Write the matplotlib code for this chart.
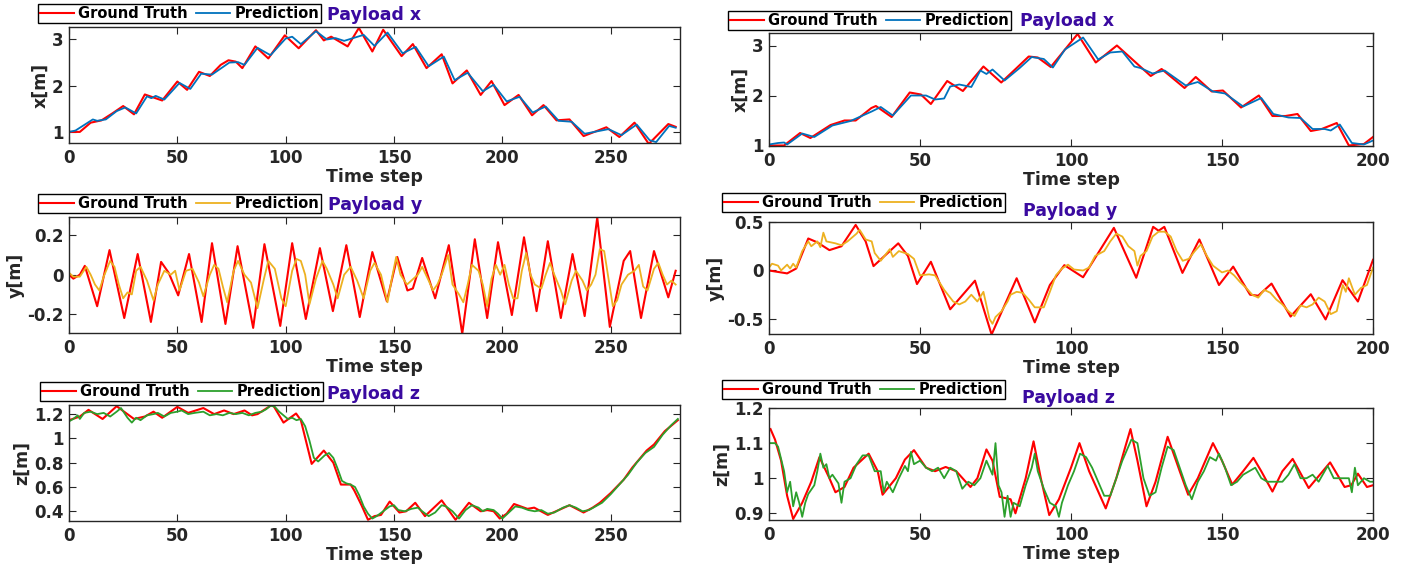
import numpy as np
import matplotlib.pyplot as plt

# ---- Payload x, left (280 steps) ----
xl_gt_t = [0, 5, 10, 15, 20, 25, 30, 35, 43, 50, 54.5, 60, 65, 70, 73.6, 77, 80, 86, 92, 99.6, 106, 114,
           117.6, 121, 128.6, 133.8, 140, 145, 153.5, 158.7, 165, 172, 177, 183.6, 190, 195, 201, 207.5,
           213.7, 219, 225, 231, 237.5, 248, 254, 261, 267.6, 276.6, 280]
xl_gt_v = [1.0, 1.0, 1.2, 1.25, 1.4, 1.56, 1.38, 1.81, 1.68, 2.09, 1.91, 2.30, 2.21, 2.45, 2.55, 2.52, 2.38,
           2.85, 2.59, 3.09, 2.81, 3.20, 2.98, 3.06, 2.85, 3.25, 2.74, 3.21, 2.64, 2.90, 2.38, 2.68, 2.05,
           2.33, 1.80, 2.10, 1.58, 1.80, 1.36, 1.58, 1.25, 1.27, 0.91, 1.10, 0.89, 1.20, 0.74, 1.17, 1.11]
xl_pr_t = [0, 3, 8, 11, 13, 17, 22, 26, 31, 36, 38, 40, 44, 51, 56, 61, 66, 74, 78, 81, 87, 93, 100, 103,
           107, 114, 119, 123, 127, 136, 141, 147, 154, 160, 166, 173, 178, 184, 191, 196, 202, 208, 214,
           220, 226, 232, 238, 249, 255, 262, 268, 271, 277, 280]
xl_pr_v = [1.0, 1.03, 1.18, 1.27, 1.24, 1.27, 1.45, 1.53, 1.40, 1.77, 1.73, 1.78, 1.70, 2.06, 1.93, 2.26,
           2.24, 2.50, 2.51, 2.45, 2.82, 2.66, 3.02, 3.06, 2.90, 3.18, 3.00, 3.03, 2.97, 3.10, 2.86, 3.15,
           2.70, 2.84, 2.42, 2.63, 2.12, 2.28, 1.88, 2.02, 1.66, 1.76, 1.42, 1.55, 1.24, 1.22, 0.96, 1.06,
           0.93, 1.16, 0.82, 0.78, 1.13, 1.09]

# ---- Payload x, right (200 steps) ----
xr_gt_t = [0, 5, 10.3, 13.7, 20.4, 25, 28.7, 33.9, 35.4, 40.6, 46.6, 50.3, 53.6, 59, 64.2, 71, 76.9, 82, 86,
           89, 93.3, 102.2, 108.2, 115.2, 126.4, 130, 137.6, 141.3, 146.6, 150.3, 156.3, 162.2, 166.7, 171,
           175, 179.4, 183, 188, 192, 197, 200]
xr_gt_v = [1.0, 1.0, 1.25, 1.15, 1.41, 1.50, 1.50, 1.75, 1.79, 1.57, 2.06, 2.02, 1.83, 2.29, 2.09, 2.58,
           2.26, 2.55, 2.78, 2.76, 2.57, 3.23, 2.66, 3.00, 2.39, 2.53, 2.15, 2.37, 2.08, 2.10, 1.76, 2.00,
           1.59, 1.59, 1.63, 1.29, 1.33, 1.45, 1.0, 1.03, 1.17]
xr_pr_t = [0, 3, 5, 6, 11, 15, 21, 27, 34, 37, 41, 47, 52, 55, 58, 60, 63, 67, 70, 72, 74, 78, 83, 87, 91,
           94, 98, 104, 109, 113, 117, 121, 123, 127, 131, 138, 142, 147, 151, 157, 163, 167, 172, 176,
           180, 184, 186, 189, 193, 197, 200]
xr_pr_v = [1.02, 1.05, 1.06, 1.02, 1.24, 1.17, 1.40, 1.49, 1.68, 1.77, 1.60, 2.00, 2.00, 1.92, 1.94, 2.18,
           2.22, 2.17, 2.50, 2.43, 2.52, 2.30, 2.55, 2.77, 2.73, 2.56, 2.92, 3.16, 2.72, 2.86, 2.88, 2.58,
           2.55, 2.44, 2.50, 2.20, 2.27, 2.08, 2.04, 1.78, 1.95, 1.63, 1.56, 1.55, 1.33, 1.33, 1.30, 1.42,
           1.05, 1.02, 1.10]

# ---- Payload y, left ----
yl_gt_t = [0, 2, 5, 7.3, 13, 18.7, 25.5, 31.7, 37.8, 42.5, 46, 50.4, 55.4, 61.2, 66, 72.2, 77.8, 85, 90.2,
           97.5, 103, 109.3, 115.8, 121.8, 128, 134.2, 140, 146.7, 151.5, 156.2, 158.7, 163, 169, 175.3,
           181.5, 187.3, 193, 198, 204.4, 210, 215.8, 221, 227, 232.4, 238, 243.8, 249.6, 256, 259, 264,
           270, 276.6, 280]
yl_gt_v = [0.0, -0.02, 0.0, 0.045, -0.16, 0.125, -0.22, 0.105, -0.24, 0.065, 0.01, -0.105, 0.105, -0.24,
           0.16, -0.25, 0.145, -0.27, 0.155, -0.26, 0.16, -0.225, 0.135, -0.185, 0.15, -0.215, 0.115,
           -0.135, 0.09, -0.08, -0.07, 0.085, -0.12, 0.15, -0.30, 0.18, -0.22, 0.165, -0.205, 0.19, -0.185,
           0.17, -0.22, 0.105, -0.21, 0.29, -0.265, 0.07, 0.12, -0.22, 0.12, -0.115, 0.02]
yl_pr_t = [0, 2, 5, 8, 10, 12, 14, 16, 19, 21, 23, 25, 27, 29, 31, 33, 36, 39, 41, 44, 47, 49, 51, 54, 57,
           60, 62, 65, 67, 69, 71, 73, 76, 78, 81, 84, 87, 90, 92, 95, 98, 100, 103, 105, 107, 109, 111,
           114, 117, 119, 122, 124, 127, 130, 133, 136, 139, 141, 144, 147, 149, 151, 153, 156, 158, 161,
           163, 166, 168, 170, 172, 175, 177, 180, 182, 184, 186, 189, 191, 193, 195, 197, 199, 201, 203,
           205, 207, 209, 211, 213, 215, 218, 220, 222, 224, 227, 229, 232, 234, 237, 239, 241, 243, 245,
           247, 249, 251, 253, 255, 258, 261, 263, 265, 267, 270, 272, 274, 276, 278, 280]
yl_pr_v = [0.01, -0.01, -0.01, 0.04, 0.0, -0.05, -0.08, -0.01, 0.07, 0.04, -0.05, -0.12, -0.09, -0.10,
           0.02, 0.04, -0.03, -0.13, -0.05, 0.02, 0.0, 0.02, -0.08, 0.02, 0.03, -0.04, -0.11, 0.0, 0.05,
           0.03, -0.06, -0.14, 0.02, 0.07, 0.0, -0.04, -0.17, -0.02, 0.07, 0.03, -0.12, -0.16, 0.02, 0.08,
           0.07, 0.0, -0.15, -0.02, 0.07, 0.03, -0.05, -0.12, 0.0, 0.04, -0.03, -0.12, 0.02, 0.06, 0.0,
           -0.14, -0.02, 0.09, 0.0, -0.05, -0.03, 0.0, 0.04, -0.03, -0.08, -0.05, 0.0, 0.10, -0.05, -0.10,
           -0.14, -0.05, 0.05, 0.02, -0.05, -0.16, -0.02, 0.05, 0.0, 0.05, -0.05, -0.12, -0.12, 0.02, 0.11,
           0.0, -0.05, -0.07, 0.0, 0.06, 0.0, -0.08, -0.15, -0.03, 0.02, -0.03, -0.08, -0.05, 0.0, 0.13,
           0.12, -0.02, -0.16, -0.13, -0.05, 0.0, 0.02, 0.05, -0.06, -0.08, 0.03, 0.06, 0.0, -0.05, -0.03,
           -0.05]

# ---- Payload y, right ----
yr_gt_t = [0, 2, 6, 9, 13, 16, 20, 24, 28.7, 32, 34.6, 42.8, 46, 49, 53.6, 60, 68.2, 73.7, 82, 88, 93,
           97.8, 104, 114.2, 121.6, 127.2, 129, 130.9, 136.9, 142.5, 149, 153.7, 159.3, 162, 166.4, 172.7,
           179.4, 184.3, 189.9, 195, 200]
yr_gt_v = [0.0, -0.01, -0.03, 0.02, 0.33, 0.29, 0.21, 0.25, 0.47, 0.30, 0.045, 0.28, 0.15, -0.14, 0.09,
           -0.40, -0.105, -0.66, -0.08, -0.535, -0.15, 0.055, -0.07, 0.44, -0.075, 0.45, 0.41, 0.45,
           -0.025, 0.32, -0.15, 0.04, -0.25, -0.26, -0.135, -0.475, -0.245, -0.505, -0.10, -0.32, 0.11]
yr_pr_t = [0, 1, 3, 4, 6, 7, 8, 9, 11, 13, 14, 16, 17, 18, 19, 22, 24, 26, 29, 30, 32, 34, 35, 37, 40, 41,
           43, 46, 48, 50, 53, 55, 58, 61, 63, 65, 67, 69, 71, 73, 74, 75, 77, 79, 80, 82, 84, 86, 88, 91,
           93, 95, 97, 99, 101, 104, 106, 108, 111, 113, 115, 117, 119, 121, 122, 123, 125, 127, 129, 131,
           133, 135, 137, 139, 141, 143, 145, 147, 150, 152, 154, 156, 158, 160, 162, 164, 166, 168, 170,
           172, 174, 176, 178, 180, 182, 184, 186, 188, 190, 191, 192, 194, 196, 198, 200]
yr_pr_v = [0.03, 0.07, 0.05, 0.0, 0.06, 0.02, 0.07, 0.03, 0.20, 0.30, 0.25, 0.30, 0.24, 0.39, 0.30, 0.28,
           0.26, 0.30, 0.38, 0.42, 0.32, 0.30, 0.18, 0.10, 0.22, 0.14, 0.20, 0.17, 0.12, -0.05, -0.04,
           -0.05, -0.20, -0.32, -0.35, -0.32, -0.25, -0.32, -0.22, -0.50, -0.55, -0.48, -0.42, -0.32, -0.25,
           -0.22, -0.23, -0.30, -0.38, -0.38, -0.22, -0.05, 0.02, 0.06, 0.01, 0.0, 0.03, 0.15, 0.20, 0.30,
           0.38, 0.35, 0.25, 0.20, 0.05, 0.15, 0.20, 0.35, 0.40, 0.40, 0.35, 0.20, 0.10, 0.12, 0.20, 0.27,
           0.15, 0.05, -0.02, 0.0, -0.05, -0.12, -0.18, -0.25, -0.28, -0.20, -0.23, -0.30, -0.35, -0.42,
           -0.47, -0.36, -0.38, -0.35, -0.28, -0.32, -0.45, -0.42, -0.15, -0.22, -0.08, -0.25, -0.18, -0.15,
           0.03]

# ---- Payload z, left ----
zl_gt_t = [0, 5, 9, 15.5, 22, 30, 35, 39, 43, 50, 55, 62, 67, 71.6, 76, 81, 84.5, 87, 94, 99, 104.8, 107,
           112, 117.6, 122, 125.5, 130, 131.7, 135, 138, 141, 144, 148, 152.5, 155.6, 159.8, 164.3, 172,
           178.4, 184.6, 190, 193, 196, 198.8, 202, 205.4, 211.6, 214.7, 221, 226, 231, 237.5, 241.7, 245,
           250, 256, 260, 266.6, 270, 275, 281]
zl_gt_v = [1.15, 1.18, 1.235, 1.16, 1.265, 1.16, 1.18, 1.22, 1.17, 1.26, 1.21, 1.25, 1.20, 1.23, 1.20,
           1.23, 1.19, 1.20, 1.28, 1.13, 1.205, 1.15, 0.79, 0.90, 0.80, 0.62, 0.62, 0.57, 0.45, 0.33, 0.36,
           0.37, 0.48, 0.39, 0.40, 0.47, 0.36, 0.49, 0.33, 0.47, 0.40, 0.41, 0.40, 0.34, 0.38, 0.46, 0.42,
           0.43, 0.37, 0.41, 0.45, 0.39, 0.43, 0.47, 0.55, 0.66, 0.76, 0.90, 0.95, 1.06, 1.15]
zl_pr_t = [0, 2, 4, 5, 7, 10, 13, 16, 19, 22, 24, 27, 29, 31, 33, 36, 39, 41, 44, 47, 50, 52, 55, 58, 62,
           65, 68, 71, 74, 77, 80, 83, 86, 89, 91, 93, 95, 97, 99, 101, 103, 105, 107, 109, 111, 113, 115,
           118, 120, 122, 124, 126, 128, 130, 132, 134, 136, 138, 140, 142, 145, 148, 150, 152, 155, 158,
           161, 163, 166, 169, 172, 174, 177, 180, 183, 186, 189, 191, 193, 196, 198, 200, 203, 206, 209,
           212, 215, 218, 221, 224, 228, 231, 234, 237, 240, 243, 246, 250, 254, 258, 262, 266, 270, 274,
           278, 281]
zl_pr_v = [1.14, 1.16, 1.19, 1.16, 1.21, 1.22, 1.20, 1.21, 1.18, 1.22, 1.25, 1.17, 1.13, 1.17, 1.15, 1.19,
           1.20, 1.21, 1.18, 1.21, 1.22, 1.23, 1.20, 1.21, 1.22, 1.19, 1.20, 1.19, 1.21, 1.20, 1.21, 1.19,
           1.21, 1.22, 1.24, 1.27, 1.26, 1.22, 1.19, 1.16, 1.17, 1.15, 1.16, 1.10, 0.98, 0.84, 0.81, 0.86,
           0.88, 0.84, 0.75, 0.65, 0.63, 0.62, 0.60, 0.53, 0.44, 0.38, 0.34, 0.36, 0.40, 0.44, 0.45, 0.41,
           0.40, 0.42, 0.43, 0.40, 0.36, 0.39, 0.45, 0.44, 0.40, 0.34, 0.41, 0.45, 0.43, 0.40, 0.42, 0.41,
           0.38, 0.34, 0.39, 0.44, 0.43, 0.41, 0.40, 0.41, 0.38, 0.39, 0.43, 0.45, 0.43, 0.40, 0.41, 0.44,
           0.47, 0.54, 0.62, 0.70, 0.80, 0.88, 0.93, 1.03, 1.11, 1.16]

# ---- Payload z, right ----
zr_gt_t = [0.5, 2, 4, 6, 8, 11, 14, 16.7, 20, 22, 25, 28, 33, 36, 37.6, 42, 45, 48, 52, 55, 58.5, 62, 66.7,
           69, 72, 74, 76.4, 80, 81.6, 85, 87.6, 90, 92.8, 96, 100, 102.8, 106, 111.5, 115, 118, 119.7, 122,
           125, 128, 132, 136, 138.8, 142, 147, 150, 153.4, 157, 160.4, 163, 166.7, 170, 173.4, 178.7,
           185.8, 190.6, 192.8, 195, 198, 200]
zr_gt_v = [1.14, 1.11, 1.05, 0.95, 0.884, 0.93, 0.99, 1.06, 1.0, 0.96, 0.975, 1.03, 1.07, 1.02, 0.953,
           1.0, 1.053, 1.08, 1.03, 1.02, 1.032, 1.02, 0.975, 1.0, 1.082, 1.05, 0.947, 0.94, 0.90, 1.0,
           1.105, 1.0, 0.895, 0.94, 1.03, 1.10, 1.02, 0.914, 1.0, 1.09, 1.14, 1.05, 0.92, 0.99, 1.118,
           1.02, 0.953, 1.0, 1.10, 1.05, 0.982, 1.02, 1.058, 1.02, 0.962, 1.02, 1.055, 0.972, 1.045, 0.975,
           0.98, 1.013, 0.975, 0.98]
zr_pr_t = [0, 2, 3, 5, 6, 7, 8, 9, 10, 11, 12, 13, 15, 16, 17, 18, 19, 20, 21, 23, 24, 25, 27, 29, 31, 33,
           35, 37, 38, 39, 41, 43, 45, 46, 47, 48, 50, 52, 54, 56, 58, 60, 62, 64, 66, 68, 70, 72, 74, 75,
           76, 77, 78, 79, 80, 81, 83, 85, 87, 88, 89, 91, 93, 95, 96, 97, 99, 101, 103, 105, 107, 109,
           111, 113, 115, 117, 119, 120, 122, 124, 126, 128, 130, 132, 134, 136, 138, 140, 142, 144, 146,
           148, 149, 151, 153, 155, 157, 159, 161, 163, 165, 168, 170, 172, 174, 176, 178, 180, 182, 184,
           185, 187, 190, 192, 193, 194, 195, 197, 199, 200]
zr_pr_v = [1.10, 1.10, 1.09, 1.02, 0.96, 0.99, 0.92, 0.96, 0.93, 0.89, 0.93, 0.955, 0.98, 1.02, 1.07,
           1.03, 1.04, 1.00, 1.01, 0.985, 0.93, 0.99, 1.0, 1.04, 1.065, 1.065, 1.02, 1.02, 0.96, 0.99,
           0.96, 1.0, 1.035, 1.02, 1.075, 1.04, 1.05, 1.03, 1.02, 1.03, 1.0, 1.03, 1.02, 0.97, 0.99, 0.98,
           1.0, 1.05, 1.01, 1.10, 0.98, 0.96, 0.89, 0.95, 0.89, 0.93, 0.92, 0.98, 1.03, 1.07, 1.02, 0.97,
           0.93, 0.92, 0.89, 0.93, 0.98, 1.02, 1.07, 1.06, 1.03, 0.99, 0.95, 0.95, 1.0, 1.05, 1.09, 1.11,
           1.10, 1.0, 0.95, 0.96, 1.03, 1.09, 1.08, 1.03, 0.98, 0.94, 0.99, 1.02, 1.06, 1.05, 1.07, 1.03,
           0.98, 0.99, 1.01, 1.02, 1.03, 1.0, 0.99, 0.99, 0.99, 1.01, 1.04, 1.0, 1.0, 1.01, 0.99, 1.02,
           1.035, 1.0, 1.0, 1.0, 0.96, 1.03, 0.98, 1.0, 0.99, 0.99]

W, H = 1406, 570
RED = '#FF0000'
PRED_COLORS = {'x': '#0072BD', 'y': '#EDB120', 'z': '#2CA02C'}
TITLE_COLOR = '#3A0AA0'
AX_COLOR = '#262626'

panels = [
    # (box l, t, r, b in px), xmax, ylim, yticks, yticklabels, name, gt, pred, legend (px), title (px)
    ((69, 27, 680, 143), 282, (0.76, 3.27), [1, 2, 3], ['1', '2', '3'], 'x',
     (xl_gt_t, xl_gt_v), (xl_pr_t, xl_pr_v), (38, 4), (374, 15)),
    ((769, 33, 1373, 146), 200, (0.99, 3.25), [1, 2, 3], ['1', '2', '3'], 'x',
     (xr_gt_t, xr_gt_v), (xr_pr_t, xr_pr_v), (728, 11), (1067, 21)),
    ((69, 217, 680, 333), 282, (-0.296, 0.293), [-0.2, 0, 0.2], ['-0.2', '0', '0.2'], 'y',
     (yl_gt_t, yl_gt_v), (yl_pr_t, yl_pr_v), (38, 194), (375, 205)),
    ((769, 222, 1373, 334), 200, (-0.655, 0.5), [-0.5, 0, 0.5], ['-0.5', '0', '0.5'], 'y',
     (yr_gt_t, yr_gt_v), (yr_pr_t, yr_pr_v), (722, 193), (1070, 211)),
    ((69, 405, 680, 521), 282, (0.32, 1.275), [0.4, 0.6, 0.8, 1.0, 1.2], ['0.4', '0.6', '0.8', '1', '1.2'], 'z',
     (zl_gt_t, zl_gt_v), (zl_pr_t, zl_pr_v), (40, 382), (373, 394)),
    ((769, 408, 1373, 520), 200, (0.881, 1.2), [0.9, 1.0, 1.1, 1.2], ['0.9', '1', '1.1', '1.2'], 'z',
     (zr_gt_t, zr_gt_v), (zr_pr_t, zr_pr_v), (722, 380), (1068, 398)),
]

fig = plt.figure(figsize=(W / 100, H / 100), dpi=100)

for box, xmax, ylim, yt, ytl, name, gt, pr, leg, tit in panels:
    l, t, r, b = box
    ax = fig.add_axes([l / W, 1 - b / H, (r - l) / W, (b - t) / H])
    ax.plot(gt[0], gt[1], color=RED, lw=1.5, label='Ground Truth')
    ax.plot(pr[0], pr[1], color=PRED_COLORS[name], lw=1.3, label='Prediction')
    ax.set_xlim(0, xmax)
    ax.set_ylim(*ylim)
    ax.set_xticks(np.arange(0, xmax + 1, 50))
    ax.set_yticks(yt)
    ax.set_yticklabels(ytl)
    ax.tick_params(direction='in', length=5, width=0.8, top=True, right=True,
                   labelsize=12, colors=AX_COLOR, pad=4)
    for lab in ax.get_xticklabels() + ax.get_yticklabels():
        lab.set_fontweight('bold')
    for sp in ax.spines.values():
        sp.set_color(AX_COLOR)
        sp.set_linewidth(1.0)
    ax.set_xlabel('Time step', fontsize=12.5, fontweight='bold', color=AX_COLOR, labelpad=1)
    ax.set_ylabel(name + '[m]', fontsize=12.5, fontweight='bold', color=AX_COLOR, labelpad=2)
    lg = ax.legend(loc='upper left', bbox_to_anchor=(leg[0] / W, 1 - leg[1] / H),
                   bbox_transform=fig.transFigure, ncol=2, frameon=True, fancybox=False,
                   edgecolor='black', framealpha=1, borderaxespad=0, borderpad=0.15,
                   handlelength=2.3, handletextpad=0.3, columnspacing=0.6,
                   prop={'weight': 'bold', 'size': 10.5})
    lg.get_frame().set_linewidth(1.0)
    fig.text(tit[0] / W, 1 - tit[1] / H, 'Payload ' + name, color=TITLE_COLOR,
             fontsize=12.5, fontweight='bold', ha='center', va='center')

fig.savefig('out.png', dpi=100)
